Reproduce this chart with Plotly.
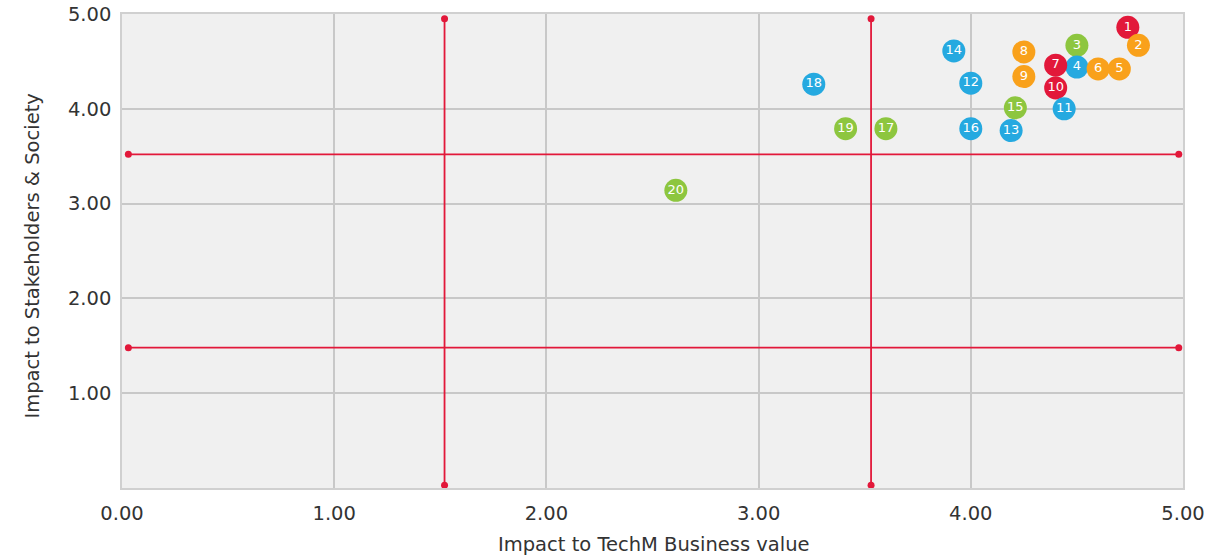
import plotly.graph_objects as go

# Data
labels = [str(i) for i in range(1, 21)]
business = [4.74, 4.79, 4.50, 4.50, 4.70, 4.60, 4.40, 4.25, 4.25, 4.40,
            4.44, 4.00, 4.19, 3.92, 4.21, 4.00, 3.60, 3.26, 3.41, 2.61]
society = [4.86, 4.67, 4.67, 4.44, 4.42, 4.42, 4.46, 4.60, 4.34, 4.22,
           4.00, 4.27, 3.77, 4.61, 4.01, 3.79, 3.79, 4.26, 3.79, 3.14]
groups = ["red", "orange", "green", "blue", "orange", "orange", "red", "orange", "orange", "red",
          "blue", "blue", "blue", "blue", "green", "blue", "green", "blue", "green", "green"]
palette = {"red": "#e2183a", "orange": "#f9a11b", "green": "#8dc63f", "blue": "#25a9e0"}

# Threshold lines
v_lines_x = [1.52, 3.53]
v_line_span = [0.03, 4.95]
h_lines_y = [3.52, 1.48]
h_line_span = [0.03, 4.98]

x_ticks = [0, 1, 2, 3, 4, 5]
y_ticks = [1, 2, 3, 4, 5]

FONT = "DejaVu Sans"

fig = go.Figure()

for xv in v_lines_x:
    fig.add_trace(go.Scatter(x=[xv, xv], y=v_line_span, mode="lines+markers",
                             line=dict(color="#e2183a", width=1.8),
                             marker=dict(color="#e2183a", size=7), hoverinfo="skip", showlegend=False))
for yv in h_lines_y:
    fig.add_trace(go.Scatter(x=h_line_span, y=[yv, yv], mode="lines+markers",
                             line=dict(color="#e2183a", width=1.8),
                             marker=dict(color="#e2183a", size=7), hoverinfo="skip", showlegend=False))

fig.add_trace(go.Scatter(
    x=business, y=society, mode="markers+text", text=labels,
    textposition="middle center",
    textfont=dict(color="white", size=13, family=FONT),
    marker=dict(size=23, color=[palette[g] for g in groups], line=dict(width=0)),
    showlegend=False))

fig.update_layout(
    width=1209, height=558,
    margin=dict(l=122, r=26, t=14, b=70),
    paper_bgcolor="white", plot_bgcolor="#f0f0f0",
    font=dict(family=FONT, color="#333333"),
    xaxis=dict(range=[0, 5], tickvals=x_ticks, ticktext=[f"{v:.2f}" for v in x_ticks],
               showgrid=True, gridcolor="#c8c8c8", gridwidth=1.5, zeroline=False,
               showline=True, linecolor="#d0d0d0", linewidth=1.5, mirror=True,
               tickfont=dict(size=19.5), ticks="", automargin=False,
               ticklabeloverflow="allow", ticklabelstandoff=7),
    yaxis=dict(range=[0, 5], tickvals=y_ticks, ticktext=[f"{v:.2f}" for v in y_ticks],
               showgrid=True, gridcolor="#c8c8c8", gridwidth=1.5, zeroline=False,
               showline=True, linecolor="#d0d0d0", linewidth=1.5, mirror=True,
               tickfont=dict(size=19.5), ticks="", automargin=False,
               ticklabeloverflow="allow", ticklabelstandoff=5),
    annotations=[
        dict(text="Impact to TechM Business value", xref="paper", yref="paper",
             x=0.501, y=-0.12, xanchor="center", yanchor="middle", showarrow=False,
             font=dict(size=19.5, family=FONT, color="#333333")),
        dict(text="Impact to Stakeholders & Society", xref="paper", yref="paper",
             x=-0.084, y=0.49, xanchor="center", yanchor="middle", showarrow=False,
             textangle=-90, font=dict(size=19.5, family=FONT, color="#333333")),
    ],
)

fig.write_html("out.html", config={"displayModeBar": False},
               post_script="document.body.style.margin='0';")
